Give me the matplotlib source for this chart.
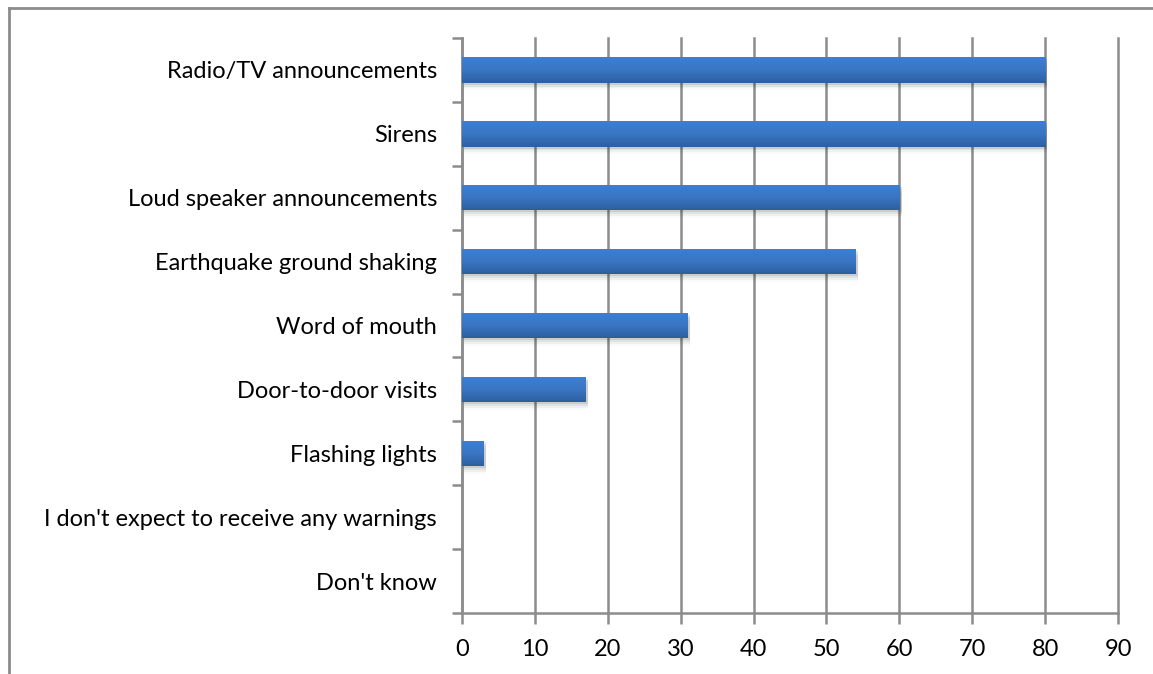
import numpy as np
import matplotlib
matplotlib.use("Agg")
from matplotlib import pyplot as plt
from matplotlib.patches import Rectangle
from matplotlib.lines import Line2D

CATEGORIES = ["Radio/TV announcements", "Sirens", "Loud speaker announcements",
              "Earthquake ground shaking", "Word of mouth", "Door-to-door visits",
              "Flashing lights", "I don't expect to receive any warnings", "Don't know"]
VALUES = [80, 80, 60, 54, 31, 17, 3, 0, 0]
X_TICKS = [0, 10, 20, 30, 40, 50, 60, 70, 80, 90]

GRID = "#8c8c8c"
BAR_HEIGHT = 0.4

plt.rcParams["font.family"] = ["Lato", "DejaVu Sans"]

fig = plt.figure(figsize=(11.53, 6.74), dpi=100)
ax = fig.add_axes([462 / 1153, 1 - 613 / 674, (1118 - 462) / 1153, (613 - 38) / 674])

# outer chart frame (top and left edge visible)
fig.add_artist(Line2D([9 / 1153, 9 / 1153], [0, 1 - 8 / 674], transform=fig.transFigure,
                      color="#8c8c8c", lw=2))
fig.add_artist(Line2D([9 / 1153, 1], [1 - 8 / 674, 1 - 8 / 674], transform=fig.transFigure,
                      color="#8c8c8c", lw=2))

n = len(CATEGORIES)
ypos = np.arange(n)

gradient = np.linspace(0, 1, 64).reshape(-1, 1)
cmap = matplotlib.colors.LinearSegmentedColormap.from_list(
    "barfill", ["#3d7fd2", "#3a76c4", "#2e5f9f"])

for y, v in zip(ypos, VALUES):
    if v <= 0:
        continue
    # soft shadow underneath
    for k, a in enumerate([0.09, 0.06, 0.04, 0.02]):
        ax.add_patch(Rectangle((0, y - BAR_HEIGHT / 2 + 0.03 + k * 0.03), v + 0.3,
                               BAR_HEIGHT, color="black", alpha=a, lw=0, zorder=2))
    rect = Rectangle((0, y - BAR_HEIGHT / 2), v, BAR_HEIGHT, facecolor="none", lw=0, zorder=3)
    ax.add_patch(rect)
    im = ax.imshow(gradient, cmap=cmap, aspect="auto", interpolation="bilinear",
                   extent=(0, v, y + BAR_HEIGHT / 2, y - BAR_HEIGHT / 2), zorder=3)
    im.set_clip_path(rect)

ax.set_xlim(0, 90)
ax.set_ylim(n - 0.5, -0.5)

ax.set_xticks(X_TICKS)
ax.set_xticklabels([str(t) for t in X_TICKS], fontsize=17)
ax.grid(axis="x", color=GRID, lw=1.8, zorder=1)
for gl in ax.get_xgridlines():
    gl.set_clip_on(False)
ax.set_axisbelow(True)

# category labels between boundary ticks
ax.set_yticks(np.arange(-0.5, n, 1.0))
ax.set_yticklabels([])
ax.set_yticks(ypos, minor=True)
ax.set_yticklabels(CATEGORIES, minor=True, fontsize=17)
ax.tick_params(axis="y", which="minor", length=0, pad=18)
ax.tick_params(axis="y", which="major", length=7, width=1.8, color=GRID)
ax.tick_params(axis="x", length=8, width=1.8, color=GRID, pad=11)

for side in ["top", "right"]:
    ax.spines[side].set_visible(False)
for side in ["left", "bottom"]:
    ax.spines[side].set_color(GRID)
    ax.spines[side].set_linewidth(1.8)

fig.savefig("out.png", dpi=100, facecolor="white")
